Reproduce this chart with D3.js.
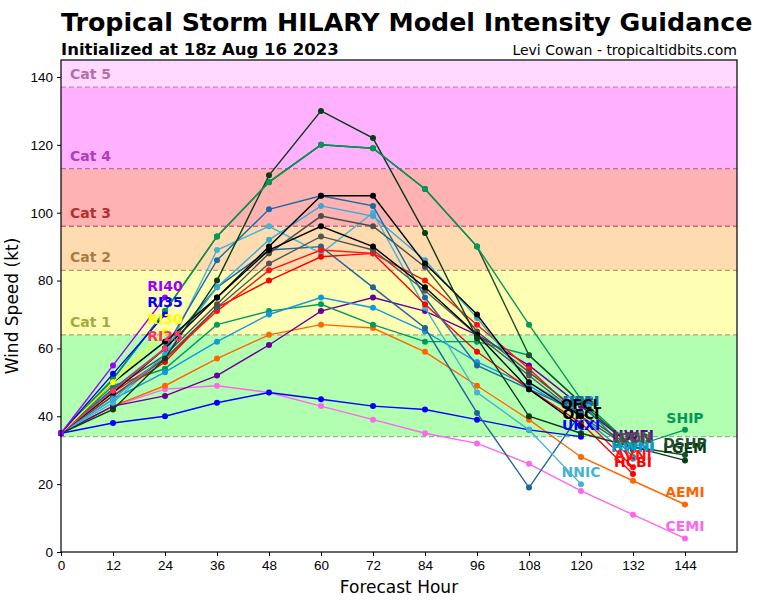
<!DOCTYPE html>
<meta charset="utf-8">
<style>
    body { margin: 0; background: #fff; }
    svg { font-family: "DejaVu Sans", sans-serif; }
    .axis text { font-size: 13.5px; fill: #000; }
    .axis path, .axis line { stroke: #000; }
    .model { fill: none; stroke-width: 1.4px; }
    .lbl { font-size: 14px; font-weight: bold; text-anchor: middle; }
    .cat { font-size: 14px; font-weight: bold; }
</style>
<svg width="768" height="600"></svg>
<script src="https://cdn.jsdelivr.net/npm/d3@7"></script>
<script>

    // forecast hours shared by every model (values line up with these)
    var hours = [0, 12, 24, 36, 48, 60, 72, 84, 96, 108, 120, 132, 144];
    var xTicks = [0, 12, 24, 36, 48, 60, 72, 84, 96, 108, 120, 132, 144];
    var yTicks = [0, 20, 40, 60, 80, 100, 120, 140];

    // saffir-simpson bands (kt)
    var catNames = ["Cat 1", "Cat 2", "Cat 3", "Cat 4", "Cat 5"];
    var catLow = [64, 83, 96, 113, 137];
    var tsLow = 34;

    // model intensities, kt
    var RI40 = [35, 55, 75];
    var RI35 = [35, 52.5, 70];
    var RI30 = [35, 50, 65];
    var RI25 = [35, 47.5, 60];
    var OFCL = [35, 50, 62, 75, 90, 105, 105, 85, 70, 50, 40];
    var OFCI = [35, 47, 60, 75, 89, 96, 90, 78, 64, 48, 37];
    var SHIP = [35, 51, 71, 93, 109, 120, 119, 107, 90, 67, 45, 31, 36];
    var DSHP = [35, 51, 71, 93, 109, 120, 119, 107, 90, 58, 44, 31, 28.6];
    var LGEM = [35, 42, 57, 80, 111, 130, 122, 94, 63, 40, 35, 31, 27];
    var HWFI = [35, 43, 46, 52, 61, 71, 75, 71, 64, 55, 43, 31];
    var IVCN = [35, 48, 58, 73, 88, 99, 96, 84, 65, 53, 41, 30.5];
    var ICON = [35, 46, 57, 72, 85, 93, 89, 77, 64, 52, 40, 30];
    var HMNI = [35, 49, 54, 67, 71, 73, 67, 62, 62, 58, 44, 28];
    var HWNI = [35, 45, 53, 62, 70, 75, 72, 65, 56, 49, 40, 27.5];
    var AVNI = [35, 47, 57, 71, 83, 89, 88, 80, 67, 54, 40, 25];
    var HCBI = [35, 46, 56, 72, 80, 87, 88, 73, 59, 48, 38, 23];
    var CTCI = [35, 45, 58, 78, 92, 102, 99, 86, 69, 50, 41];
    var NNIC = [35, 44, 58, 89, 96, 88, 100, 72, 47, 36, 20];
    var HFAI = [35, 48, 60, 86, 101, 105, 102, 75, 55, 48, 41];
    var HFBI = [35, 47, 60, 78, 89, 90, 78, 66, 41, 19, 41];
    var UKXI = [35, 38, 40, 44, 47, 45, 43, 42, 39, 36, 34];
    var AEMI = [35, 43, 49, 57, 64, 67, 66, 59, 49, 39, 28, 21, 14];
    var CEMI = [35, 43, 48, 49, 47, 43, 39, 35, 32, 26, 18, 11, 4];

    var models = [
        { name: "CEMI", v: CEMI, c: "#ff66ee" },
        { name: "AEMI", v: AEMI, c: "#ff6600" },
        { name: "UKXI", v: UKXI, c: "#0000ff" },
        { name: "HWFI", v: HWFI, c: "#660099" },
        { name: "HMNI", v: HMNI, c: "#009966" },
        { name: "HWNI", v: HWNI, c: "#1199dd" },
        { name: "HFBI", v: HFBI, c: "#1a6699" },
        { name: "NNIC", v: NNIC, c: "#44b4d4" },
        { name: "HCBI", v: HCBI, c: "#ff0000" },
        { name: "AVNI", v: AVNI, c: "#ff1111" },
        { name: "ICON", v: ICON, c: "#555555" },
        { name: "IVCN", v: IVCN, c: "#4d4d4d" },
        { name: "CTCI", v: CTCI, c: "#33aad6" },
        { name: "HFAI", v: HFAI, c: "#1a6aa6" },
        { name: "OFCI", v: OFCI, c: "#000000" },
        { name: "OFCL", v: OFCL, c: "#000000" },
        { name: "LGEM", v: LGEM, c: "#053d14" },
        { name: "DSHP", v: DSHP, c: "#1f4d2a" },
        { name: "SHIP", v: SHIP, c: "#009955" },
        { name: "RI25", v: RI25, c: "#ff3366" },
        { name: "RI30", v: RI30, c: "#ffff00" },
        { name: "RI35", v: RI35, c: "#0000ff" },
        { name: "RI40", v: RI40, c: "#9900ff" }
    ];

    var bandFill = ["#ffffb3", "#ffdcb0", "#ffb2b2", "#ffb0ff", "#ffd9ff"];
    var bandDash = ["#b4a868", "#c49a6c", "#c07070", "#b868b8", "#c088c0"];
    var catText = ["#a8a840", "#a87c40", "#b03030", "#b03cb8", "#b070a8"];

    var svg = d3.select("svg"),
        pl = 61, pr = 737, pt = 60, pb = 552;

    var x = d3.scaleLinear().domain([0, 156]).range([pl, pr]);
    var y = d3.scaleLinear().domain([0, 145]).range([pb, pt]);

    // title block
    svg.append("text").attr("x", pl).attr("y", 31)
        .style("font-size", "25.3px").style("font-weight", "bold")
        .text("Tropical Storm HILARY Model Intensity Guidance");
    svg.append("text").attr("x", pl).attr("y", 55)
        .style("font-size", "16.5px").style("font-weight", "bold")
        .text("Initialized at 18z Aug 16 2023");
    svg.append("text").attr("x", pr).attr("y", 55)
        .style("font-size", "14px").style("text-anchor", "end")
        .text("Levi Cowan - tropicaltidbits.com");

    var g = svg.append("g");

    // tropical storm band + hurricane bands
    g.append("rect").attr("x", pl).attr("width", pr - pl)
        .attr("y", y(catLow[0])).attr("height", y(tsLow) - y(catLow[0]))
        .attr("fill", "#b2ffb2");
    catLow.forEach(function (lo, i) {
        var hi = i < catLow.length - 1 ? catLow[i + 1] : 145;
        g.append("rect").attr("x", pl).attr("width", pr - pl)
            .attr("y", y(hi)).attr("height", y(lo) - y(hi))
            .attr("fill", bandFill[i]);
    });
    g.append("line").attr("x1", pl).attr("x2", pr)
        .attr("y1", y(tsLow)).attr("y2", y(tsLow))
        .attr("stroke", "#88b888").attr("stroke-width", 1.3).attr("stroke-dasharray", "5,3");
    catLow.forEach(function (lo, i) {
        g.append("line").attr("x1", pl).attr("x2", pr)
            .attr("y1", y(lo)).attr("y2", y(lo))
            .attr("stroke", bandDash[i]).attr("stroke-width", 1.3).attr("stroke-dasharray", "5,3");
        // label sits just above the lower edge of its band
        g.append("text").attr("class", "cat")
            .attr("x", 70).attr("y", y(lo) - 8)
            .attr("fill", catText[i])
            .text(catNames[i]);
    });

    // model lines
    var line = d3.line()
        .x(function (d, i) { return x(hours[i]); })
        .y(function (d) { return y(d); });

    models.forEach(function (m) {
        var mg = g.append("g");
        mg.append("path").attr("class", "model")
            .attr("stroke", m.c).attr("d", line(m.v));
        mg.selectAll("circle").data(m.v).enter().append("circle")
            .attr("cx", function (d, i) { return x(hours[i]); })
            .attr("cy", function (d) { return y(d); })
            .attr("r", 3)
            .attr("fill", m.c);
    });

    models.forEach(function (m) {
        var n = m.v.length - 1;
        g.append("text").attr("class", "lbl")
            .attr("x", x(hours[n])).attr("y", y(m.v[n]) - 7)
            .attr("fill", m.c)
            .text(m.name);
    });

    // frame and axes
    svg.append("rect").attr("x", pl).attr("y", pt)
        .attr("width", pr - pl).attr("height", pb - pt)
        .attr("fill", "none").attr("stroke", "#000").attr("stroke-width", 1.2);

    svg.append("g").attr("class", "axis")
        .attr("transform", "translate(0," + pb + ")")
        .call(d3.axisBottom(x).tickValues(xTicks).tickSize(4).tickPadding(4))
        .call(function (s) { s.select(".domain").remove(); });

    svg.append("g").attr("class", "axis")
        .attr("transform", "translate(" + pl + ",0)")
        .call(d3.axisLeft(y).tickValues(yTicks).tickSize(4).tickPadding(4))
        .call(function (s) { s.select(".domain").remove(); });

    svg.append("text").attr("x", (pl + pr) / 2).attr("y", 593)
        .style("font-size", "17px").style("text-anchor", "middle")
        .text("Forecast Hour");
    svg.append("text")
        .attr("transform", "translate(18," + ((pt + pb) / 2) + ") rotate(-90)")
        .style("font-size", "17px").style("text-anchor", "middle")
        .text("Wind Speed (kt)");

</script>
